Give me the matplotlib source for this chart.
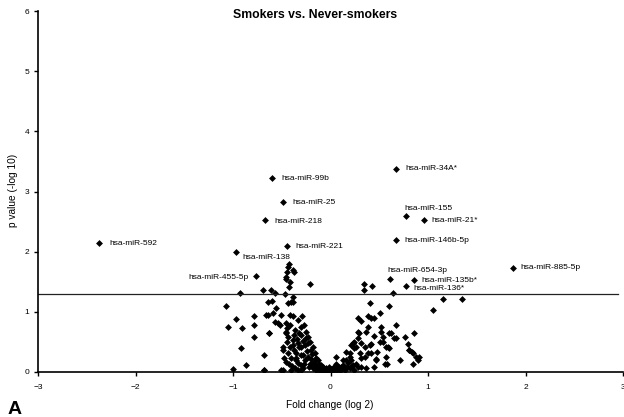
import matplotlib
matplotlib.use("Agg")
import matplotlib.pyplot as plt

plt.rcParams['font.family'] = ['Liberation Sans', 'DejaVu Sans']

# labelled miRNAs
names = ["hsa-miR-592", "hsa-miR-99b", "hsa-miR-25", "hsa-miR-218", "hsa-miR-221",
         "hsa-miR-138", "hsa-miR-455-5p", "hsa-miR-34A*", "hsa-miR-155", "hsa-miR-21*",
         "hsa-miR-146b-5p", "hsa-miR-885-5p", "hsa-miR-654-3p", "hsa-miR-135b*", "hsa-miR-136*"]
lab_fc = [-2.37, -0.60, -0.485, -0.667, -0.448, -0.974, -0.762, 0.674, 0.77, 0.957,
          0.674, 1.87, 0.615, 0.86, 0.776]
lab_p = [2.14, 3.22, 2.82, 2.52, 2.09, 2.00, 1.59, 3.38, 2.60, 2.52,
         2.20, 1.73, 1.54, 1.53, 1.43]

# all other miRNAs (fold change log2, -log10 p)
fc = [-0.933, -1.07, -0.974, -0.78, -1.05, -0.91, -0.78, -0.787, -0.916, -0.87, -0.995, -0.684, -0.684, -0.63,
      -0.69, -0.574, -0.465, -0.46, -0.454, -0.444, -0.427, -0.387, -0.37, -0.42, -0.427, -0.44, -0.215,
      -0.6, -0.643, -0.59, -0.557, -0.506, -0.574, -0.523, -0.387, -0.387, -0.438, -0.42, -0.387, -0.29,
      -0.454, -0.448, -0.46, -0.49, -0.472, -0.49, -0.51, -0.42, -0.387, -0.36, -0.30, -0.267, -0.25,
      -0.233, -0.215, -0.18, -0.164, -0.427, -0.41, -0.335, -0.30, -0.267, -0.35, -0.318, -0.284, -0.233,
      -0.198, -0.164, -0.13, -0.147, -0.25, -0.233, -0.198, -0.095, -0.044, 0.007, -0.215, -0.18, -0.113,
      -0.079, -0.147, -0.30, -0.30,
      -0.64, -0.66, -0.54, -0.42, -0.335, -0.626, -0.454, -0.438, -0.37, -0.30, -0.335, -0.49, -0.438,
      -0.37, -0.404, -0.353, -0.454, -0.677, -0.30, -0.61, -0.41,
      -0.40, -0.36, -0.33, -0.28, -0.26, -0.24, -0.22, -0.20, -0.19, -0.17, -0.15, -0.14, -0.12, -0.11,
      -0.10, -0.08, -0.06, -0.03, -0.02, 0.0, 0.02, 0.04, 0.05, 0.07, 0.08, 0.10, 0.12, 0.13, 0.15, 0.17,
      0.18, 0.20, 0.21, 0.22, 0.24, -0.26, -0.28, -0.32, -0.35, -0.38, -0.45, -0.34,
      0.34, 0.34, 0.43, 0.64, 0.40, 0.595, 0.28, 0.315, 0.383, 0.417, 0.45, 0.503, 0.383, 0.52, 0.674,
      0.366, 0.45, 0.536, 0.605, 0.656, 0.76, 0.855, 0.28, 0.246, 0.315, 0.40, 0.417, 0.503, 0.571, 0.605,
      0.793, 0.845, 0.88, 0.895, 0.845, 0.708, 0.571, 0.554, 0.58, 0.468, 0.417, 0.48, 0.349, 0.30, 0.263,
      0.195, 0.16, 0.126, 0.058, 0.058, 0.092, 0.143, 0.23, 0.315, 0.366, 0.263, 0.349, 0.212, 0.297,
      -0.113, -0.044, 0.024, 0.28, 0.245, 0.23, 0.195, 0.16, 0.11, 0.03,
      1.05, 1.15, 1.35, 0.838, 0.91, 0.80,
      0.62, 0.67, 0.52, 0.536, 0.59, 0.81, 0.45, 0.47, 0.383, 0.315, 0.28]
pv = [1.31, 1.10, 0.875, 0.93, 0.74, 0.73, 0.78, 0.59, 0.40, 0.11, 0.045, 0.28, 0.03, 0.64,
      1.37, 1.31, 1.29, 1.58, 1.54, 1.67, 1.79, 1.69, 1.67, 1.50, 1.42, 1.75, 1.47,
      1.18, 0.95, 0.985, 1.07, 0.95, 0.835, 0.78, 1.25, 1.17, 1.14, 0.95, 0.93, 0.93,
      0.81, 0.73, 0.64, 0.42, 0.23, 0.03, 0.03, 0.42, 0.53, 0.70, 0.75, 0.78, 0.67,
      0.59, 0.50, 0.42, 0.31, 0.14, 0.03, 0.03, 0.03, 0.14, 0.23, 0.42, 0.28, 0.25,
      0.14, 0.09, 0.20, 0.03, 0.56, 0.48, 0.37, 0.12, 0.06, 0.03, 0.14, 0.06, 0.03,
      0.09, 0.12, 0.28, 0.42,
      1.16, 0.95, 0.81, 0.78, 0.86, 0.64, 0.67, 0.59, 0.61, 0.61, 0.48, 0.37, 0.31,
      0.37, 0.23, 0.20, 0.17, 0.03, 0.12, 1.36, 1.17,
      0.10, 0.06, 0.15, 0.06, 0.20, 0.35, 0.08, 0.22, 0.30, 0.16, 0.24, 0.06, 0.14, 0.08,
      0.04, 0.02, 0.04, 0.02, 0.08, 0.05, 0.02, 0.04, 0.10, 0.03, 0.06, 0.03, 0.05, 0.12, 0.04, 0.08,
      0.15, 0.06, 0.20, 0.10, 0.04, 0.45, 0.52, 0.65, 0.32, 0.45, 0.50, 0.55,
      1.47, 1.37, 1.43, 1.31, 1.15, 1.10, 0.89, 0.85, 0.93, 0.89, 0.89, 0.975, 0.75, 0.74, 0.78,
      0.67, 0.60, 0.59, 0.64, 0.56, 0.575, 0.64, 0.56, 0.50, 0.48, 0.45, 0.47, 0.50, 0.42, 0.40,
      0.465, 0.31, 0.25, 0.20, 0.13, 0.20, 0.25, 0.14, 0.14, 0.21, 0.31, 0.34, 0.25, 0.31, 0.14,
      0.25, 0.34, 0.20, 0.25, 0.14, 0.09, 0.09, 0.12, 0.09, 0.06, 0.42, 0.42, 0.45, 0.64,
      0.06, 0.03, 0.06, 0.67, 0.40, 0.48, 0.31, 0.20, 0.09, 0.06,
      1.03, 1.21, 1.21, 0.34, 0.25, 0.37,
      0.65, 0.56, 0.67, 0.50, 0.42, 0.37, 0.09, 0.20, 0.31, 0.23, 0.09]

threshold = 1.3  # -log10(0.05)
x_ticks = [-3, -2, -1, 0, 1, 2, 3]
y_ticks = [0, 1, 2, 3, 4, 5, 6]

# label offsets in pixels (dx, dy, alignment)
offsets = [(10, 0, 'left'), (9, 0, 'left'), (9, 0, 'left'), (9, -1, 'left'), (9, 0, 'left'),
           (7, -6, 'left'), (-8, -1, 'right'), (9, 0, 'left'), (-1, 7, 'left'), (7.5, 0, 'left'),
           (8, -0.5, 'left'), (7.5, 0, 'left'), (-3, 8.6, 'left'), (7, -0.5, 'left'), (7.5, -3, 'left')]

fig = plt.figure(figsize=(6.24, 4.17), dpi=100)
ax = fig.add_axes([38 / 624, 45 / 417, 585 / 624, 361 / 417])

ax.plot(fc, pv, 'D', color='black', ms=3.5, mew=0, linestyle='none')
ax.plot(lab_fc, lab_p, 'D', color='black', ms=3.5, mew=0, linestyle='none')
ax.plot([-3, 2.95], [threshold, threshold], color='#222222', lw=0.9)

for n, x, y, (dx, dy, ha) in zip(names, lab_fc, lab_p, offsets):
    ax.annotate(n, (x, y), xytext=(dx * 0.72, dy * 0.72), textcoords='offset points',
                ha=ha, va='center', fontsize=6)

ax.set_xlim(-3, 3)
ax.set_ylim(0, 6)
ax.set_xticks(x_ticks)
ax.set_yticks(y_ticks)
for s in ['top', 'right']:
    ax.spines[s].set_visible(False)
ax.spines['left'].set_linewidth(1.2)
ax.spines['bottom'].set_linewidth(1.2)
ax.tick_params(axis='x', direction='out', length=3, width=1, pad=5.5, labelsize=6)
ax.tick_params(axis='y', direction='out', length=3, width=1, pad=3.5, labelsize=6)

fig.text(315 / 624, 1 - 15 / 417, "Smokers vs. Never-smokers", ha='center', va='center',
         fontsize=8.8, fontweight='bold')
fig.text(330 / 624, 1 - 405 / 417, "Fold change (log 2)", ha='center', va='center', fontsize=7.3)
fig.text(13 / 624, 1 - 190 / 417, "p value (-log 10)", ha='center', va='center',
         rotation=90, fontsize=7.3)
fig.text(8 / 624, 3 / 417, "A", ha='left', va='baseline', fontsize=14, fontweight='bold')

fig.savefig("out.png", dpi=100)
